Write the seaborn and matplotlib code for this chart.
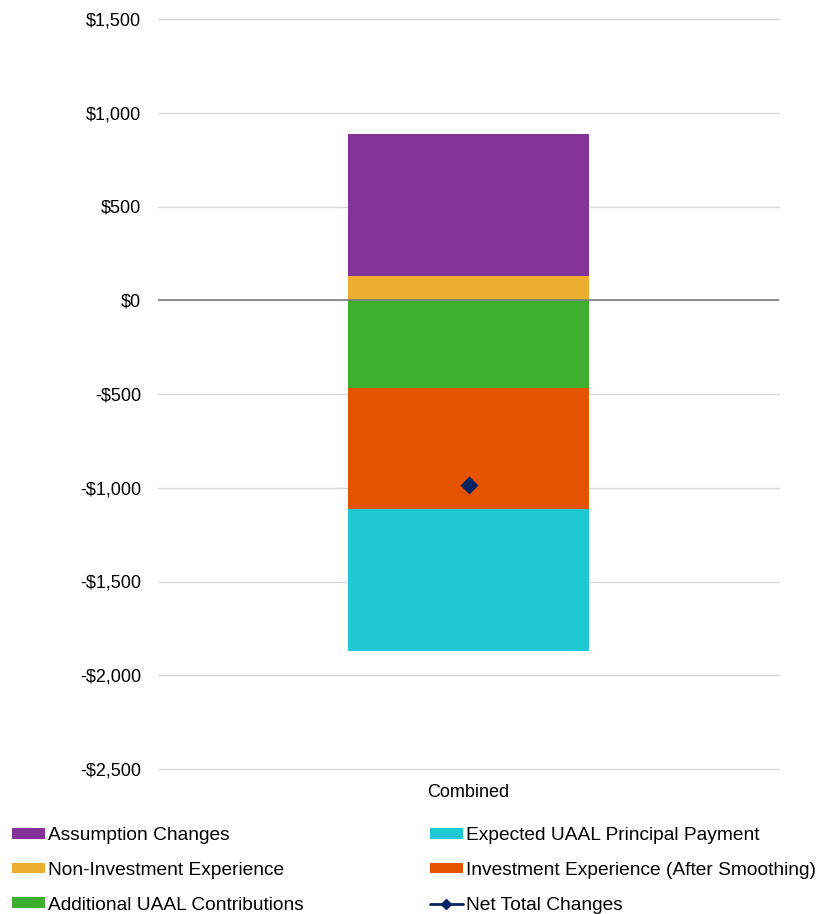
import numpy as np
import pandas as pd
import matplotlib
matplotlib.use("Agg")
import matplotlib.pyplot as plt
import seaborn as sns
from matplotlib.patches import Patch
from matplotlib.lines import Line2D

# data
categories = ["Combined"]
assumption_changes = [757]
non_investment = [128]
additional_contrib = [-468]
investment_exp = [-647]
expected_principal = [-755]
net_total = [-985]
y_ticks = [-2500, -2000, -1500, -1000, -500, 0, 500, 1000, 1500]

colors = {
    "Assumption Changes": "#843498",
    "Non-Investment Experience": "#EDAD2F",
    "Additional UAAL Contributions": "#3EAE2F",
    "Investment Experience (After Smoothing)": "#E55300",
    "Expected UAAL Principal Payment": "#1FC9D3",
    "Net Total Changes": "#062464",
}

sns.set_theme(style="white")
plt.rcParams["font.family"] = ["Liberation Sans", "DejaVu Sans"]
plt.rcParams["text.color"] = "black"

df = pd.DataFrame({
    "cat": categories,
    "assump": assumption_changes,
    "noninv": non_investment,
    "addl": additional_contrib,
    "inv": investment_exp,
    "exp": expected_principal,
    "net": net_total,
})

fig = plt.figure(figsize=(8.17, 9.14), dpi=100)
ax = fig.add_axes([158 / 817, 1 - 769 / 914, (779 - 158) / 817, 750 / 914])

w = 0.388
bar_kw = dict(width=w, saturation=1, ax=ax, linewidth=0, edgecolor="none", zorder=2)
# positive stack
sns.barplot(data=df, x="cat", y="noninv", color=colors["Non-Investment Experience"], **bar_kw)
sns.barplot(data=df, x="cat", y="assump", color=colors["Assumption Changes"],
            bottom=df["noninv"].values, **bar_kw)
# negative stack
sns.barplot(data=df, x="cat", y="addl", color=colors["Additional UAAL Contributions"], **bar_kw)
sns.barplot(data=df, x="cat", y="inv", color=colors["Investment Experience (After Smoothing)"],
            bottom=df["addl"].values, **bar_kw)
sns.barplot(data=df, x="cat", y="exp", color=colors["Expected UAAL Principal Payment"],
            bottom=(df["addl"] + df["inv"]).values, **bar_kw)
# net total marker
sns.pointplot(data=df, x="cat", y="net", color=colors["Net Total Changes"], markers="D",
              markersize=7.5, linestyles="none", ax=ax, zorder=4)

ax.set_xlim(-0.5, 0.5)
ax.set_ylim(-2500, 1500)
ax.set_yticks(y_ticks)
ax.set_yticklabels([("-$" if v < 0 else "$") + f"{abs(v):,}" for v in y_ticks])
ax.grid(axis="y", color="#D9D9D9", linewidth=1, zorder=0)
for gl in ax.get_ygridlines():
    gl.set_clip_on(False)
ax.set_axisbelow(True)
ax.axhline(0, color="#808080", linewidth=1.2, zorder=3)
for s in ax.spines.values():
    s.set_visible(False)
ax.tick_params(axis="y", length=0, pad=12, labelsize=13, labelcolor="black")
ax.tick_params(axis="x", length=0, pad=11, labelsize=13, labelcolor="black")
ax.set_xlabel("")
ax.set_ylabel("")

def patch(lbl):
    return Patch(facecolor=colors[lbl], edgecolor="none", label=lbl)

left = [patch("Assumption Changes"), patch("Non-Investment Experience"),
        patch("Additional UAAL Contributions")]
right = [patch("Expected UAAL Principal Payment"),
         patch("Investment Experience (After Smoothing)"),
         Line2D([0], [0], color=colors["Net Total Changes"], marker="D", markersize=5,
                linewidth=2, label="Net Total Changes")]

kw = dict(loc="upper left", frameon=False, fontsize=13.8, handlelength=1.72,
          handleheight=0.5, handletextpad=0.15, labelspacing=0.93, borderaxespad=0,
          borderpad=0, labelcolor="black")
leg1 = fig.legend(handles=left, bbox_to_anchor=(12 / 817, 1 - 827 / 914), **kw)
leg2 = fig.legend(handles=right, bbox_to_anchor=(430 / 817, 1 - 827 / 914), **kw)

fig.savefig("out.png", dpi=100)
